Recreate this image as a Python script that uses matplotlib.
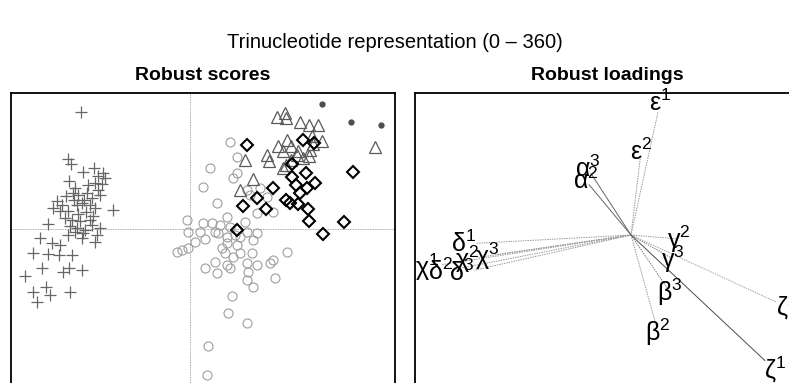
import numpy as np
import matplotlib
matplotlib.use("Agg")
import matplotlib.pyplot as plt

plt.rcParams['font.family'] = ['Liberation Sans', 'DejaVu Sans']
plt.rcParams['mathtext.fontset'] = 'custom'
plt.rcParams['mathtext.rm'] = 'Liberation Sans'
plt.rcParams['mathtext.it'] = 'Liberation Sans:italic'
plt.rcParams['mathtext.bf'] = 'Liberation Sans:bold'

# robust scores, one list per group
cross_x = [-2.18, -2.44, -2.38, -2.14, -1.92, -1.74, -2.42, -2.30, -1.90, -1.84,
           -1.80, -2.06, -2.34, -2.66, -2.74, -2.26, -2.16, -2.60, -2.44, -1.54,
           -2.84, -1.94, -1.96, -1.80, -2.36, -2.20, -2.26, -2.08, -2.00, -2.24,
           -2.12, -1.96, -2.50, -2.40, -2.10, -1.90, -1.76, -2.04, -2.56, -2.32,
           -3.00, -2.76, -2.60, -2.44, -2.16, -1.90, -2.30, -2.14, -3.14, -2.84,
           -2.62, -2.36, -2.96, -2.54, -2.42, -2.16, -3.30, -3.14, -2.88, -2.80,
           -2.40, -3.06, -1.70, -1.84, -2.24, -2.48, -2.00, -1.86]
cross_y = [2.34, 1.40, 1.30, 1.14, 1.22, 1.12, 0.96, 0.82, 0.92, 0.78,
           0.68, 0.72, 0.72, 0.56, 0.42, 0.48, 0.52, 0.36, 0.36, 0.38,
           0.10, 0.26, 0.08, 0.02, 0.18, 0.16, 0.02, 0.34, 0.48, 0.30,
           0.58, 0.62, 0.22, 0.06, -0.02, 0.42, 0.90, 0.88, 0.48, 0.58,
           -0.18, -0.28, -0.32, -0.12, -0.18, -0.26, -0.06, -0.08, -0.48, -0.50,
           -0.52, -0.52, -0.78, -0.86, -0.78, -0.82, -0.94, -1.26, -1.16, -1.32,
           -1.26, -1.46, 1.02, 1.06, 0.68, 0.66, 0.18, -0.12]

circle_x = [0.80, 0.94, 0.40, 0.94, 0.86, 0.26, 1.14, 1.40, 1.20, 1.54,
            0.54, 1.34, 1.66, 0.74, 1.10, -0.06, 0.26, 0.44, 0.60, 0.80,
            -0.04, 0.20, 0.30, 0.56, 0.74, 1.00, 1.14, 1.34, 1.26, 0.10,
            -0.04, -0.26, -0.16, 0.74, 0.94, 1.00, 0.70, 0.86, 1.24, 1.94,
            0.50, 0.74, 1.14, 1.34, 1.60, 1.66, 0.30, 0.54, 0.80, 1.16,
            1.14, 1.26, 1.70, 0.84, 0.76, 1.14, 0.36, 0.34, 0.90, 0.64, 0.50]
circle_y = [1.74, 1.44, 1.22, 1.12, 1.02, 0.84, 0.78, 0.82, 0.68, 0.64,
            0.52, 0.32, 0.34, 0.24, 0.14, 0.18, 0.12, 0.12, 0.08, 0.04,
            -0.06, -0.06, -0.20, -0.08, -0.16, -0.16, -0.06, -0.08, -0.22, -0.26,
            -0.38, -0.46, -0.42, -0.28, -0.32, -0.48, -0.48, -0.56, -0.48, -0.46,
            -0.66, -0.72, -0.68, -0.72, -0.68, -0.62, -0.78, -0.88, -0.78, -0.86,
            -1.02, -1.16, -0.98, -1.34, -1.68, -1.88, -2.34, -2.92, -0.12, -0.38, -0.06]

tri_x = [1.74, 1.90, 1.92, 2.20, 2.38, 2.56, 1.76, 1.94, 2.02, 1.86,
         2.16, 2.44, 2.64, 2.46, 2.40, 2.26, 2.38, 1.54, 1.58, 1.10,
         1.86, 1.92, 2.02, 1.26, 1.00, 3.70, 2.14]
tri_y = [2.24, 2.32, 2.22, 2.14, 2.08, 2.08, 1.66, 1.78, 1.66, 1.56,
         1.56, 1.86, 1.76, 1.70, 1.58, 1.42, 1.46, 1.48, 1.36, 1.38,
         1.22, 1.28, 1.38, 1.00, 0.78, 1.64, 1.48]

dot_x = [2.64, 3.22, 3.82]
dot_y = [2.50, 2.14, 2.08]

dia_x = [1.14, 2.26, 2.48, 2.04, 2.32, 3.26, 2.04, 2.50, 2.12, 2.34,
         2.20, 1.66, 1.34, 1.92, 2.00, 2.16, 1.06, 1.52, 2.36, 2.38,
         3.08, 0.94, 2.66]
dia_y = [1.68, 1.78, 1.72, 1.30, 1.12, 1.14, 1.04, 0.92, 0.88, 0.82,
         0.72, 0.82, 0.62, 0.58, 0.52, 0.50, 0.46, 0.40, 0.40, 0.16,
         0.14, -0.02, -0.10]

# robust loadings
load_greek = ['varepsilon', 'varepsilon', 'alpha', 'alpha', 'delta', 'chi', 'chi',
              'delta', 'delta', 'chi', 'gamma', 'gamma', 'beta', 'beta', 'zeta', 'zeta']
load_sup = [1, 2, 3, 2, 1, 3, 2, 3, 2, 1, 2, 3, 3, 2, 2, 1]
load_x = [0.29, 0.10, -0.43, -0.45, -1.67, -1.44, -1.64, -1.69, -1.90, -2.04,
          0.48, 0.42, 0.39, 0.27, 1.56, 1.44]
load_y = [1.32, 0.83, 0.66, 0.54, -0.09, -0.21, -0.24, -0.38, -0.37, -0.32,
          -0.04, -0.24, -0.57, -0.97, -0.72, -1.35]
line_grey = ['0.6', '0.6', '0.4', '0.4', '0.6', '0.6', '0.6', '0.6', '0.6', '0.6',
             '0.6', '0.5', '0.5', '0.6', '0.65', '0.3']

fig = plt.figure(figsize=(7.89, 3.83), dpi=100)
fig.text(0.5, 0.89, 'Trinucleotide representation (0 \u2013 360)', ha='center',
         va='center', fontsize=14.5)

W, H = 789, 383
ax1 = fig.add_axes([11 / W, 1 - 402 / H, 384 / W, 309 / H])
ax2 = fig.add_axes([415 / W, 1 - 402 / H, 385 / W, 309 / H])

ax1.axhline(0, color='0.55', lw=0.6, ls=(0, (1, 1)))
ax1.axvline(0, color='0.55', lw=0.6, ls=(0, (1, 1)))
ax1.plot(cross_x, cross_y, '+', color='0.4', ms=9, mew=0.9)
ax1.plot(circle_x, circle_y, 'o', mfc='none', mec='0.62', ms=6.5, mew=0.8)
ax1.plot(tri_x, tri_y, '^', mfc='none', mec='0.35', ms=8.5, mew=0.9)
ax1.plot(dia_x, dia_y, 'D', mfc='none', mec='black', ms=6.5, mew=1.5)
ax1.plot(dot_x, dot_y, 'o', color='0.3', ms=3.5)
ax1.set_xlim(-3.58, 4.1)
ax1.set_ylim(-3.46, 2.72)
ax1.set_title('Robust scores', fontsize=14, fontweight='bold', pad=9)

for lx, ly, g, s, c in zip(load_x, load_y, load_greek, load_sup, line_grey):
    ls = '-' if c in ('0.3', '0.4') else (0, (1.5, 1))
    ax2.plot([0, 0.93 * lx], [0, 0.93 * ly], color=c, lw=0.7, ls=ls)
    lab = r'$\mathrm{\%s}^{%d}$' % (g, s)
    ax2.text(lx, ly, lab, ha='center', va='center', fontsize=18)
ax2.set_xlim(-2.16, 1.69)
ax2.set_ylim(-1.67, 1.42)
ax2.set_title('Robust loadings', fontsize=14, fontweight='bold', pad=9)

for ax in (ax1, ax2):
    ax.set_xticks([])
    ax.set_yticks([])
    for sp in ax.spines.values():
        sp.set_linewidth(1.3)

fig.savefig('out.png', dpi=100)
